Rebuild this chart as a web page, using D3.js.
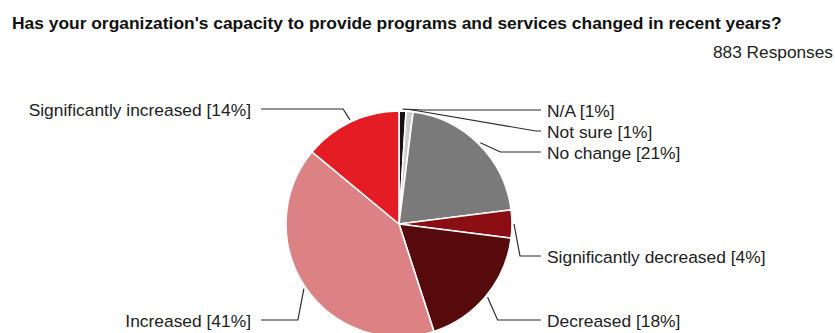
<!DOCTYPE html>
<html>
<head>
<meta charset="utf-8">
<script src="https://cdn.jsdelivr.net/npm/d3@7"></script>
<style>
  html, body { margin: 0; padding: 0; background: #fff; }
  svg { display: block; font-family: "Liberation Sans", Arial, Helvetica, sans-serif; }
</style>
</head>
<body>
<svg id="chart" width="835" height="333"></svg>
<script>
// Survey answers, clockwise from 12 o'clock
const categories = ["N/A", "Not sure", "No change", "Significantly decreased", "Decreased", "Increased", "Significantly increased"];
const percents   = [1, 1, 21, 4, 18, 41, 14];
const colors     = ["#141414", "#cdcdcd", "#7a7a7a", "#8a0e13", "#570a0c", "#dc8184", "#e41d25"];
const title      = "Has your organization's capacity to provide programs and services changed in recent years?";
const responses  = "883 Responses";

// Label placement: row (text centre y) and bend of each leader line
const labelRows  = [111, 132, 153, 257, 321, 321, 110];
const labelBends = [20, 126, 20, 6, 10, 6, 7];

const svg = d3.select("#chart");
const cx = 399, cy = 224, R = 113;

// Title and response count
svg.append("text")
  .attr("x", 12).attr("y", 29)
  .attr("font-size", 17.4).attr("font-weight", "bold").attr("fill", "#111")
  .text(title);
svg.append("text")
  .attr("x", 833).attr("y", 58)
  .attr("text-anchor", "end")
  .attr("font-size", 17.3).attr("fill", "#222")
  .text(responses);

const data = categories.map((c, i) => ({ name: c, value: percents[i], color: colors[i], row: labelRows[i], bend: labelBends[i] }));

const pie = d3.pie().value(d => d.value).sort(null);
const arcs = pie(data);
const arc = d3.arc().innerRadius(0).outerRadius(R);

const g = svg.append("g").attr("transform", `translate(${cx},${cy})`);

g.selectAll("path.slice")
  .data(arcs)
  .join("path")
  .attr("class", "slice")
  .attr("d", arc)
  .attr("fill", d => d.data.color)
  .attr("stroke", "#fff")
  .attr("stroke-width", 1.6)
  .attr("stroke-linejoin", "round");

// Leader lines and labels
const rightX = 547, leftX = 251;
const lines = svg.append("g");
const labels = svg.append("g");

arcs.forEach(a => {
  const mid = (a.startAngle + a.endAngle) / 2;
  const side = Math.sin(mid) >= 0 ? 1 : -1;
  const sx = cx + (R + 2) * Math.sin(mid);
  const sy = cy - (R + 2) * Math.cos(mid);
  const ly = a.data.row - 1;
  const bx = sx + side * a.data.bend;
  const endX = side > 0 ? rightX - 6 : leftX + 10;
  lines.append("path")
    .attr("d", d3.line()([[sx, sy], [bx, ly], [endX, ly]]))
    .attr("fill", "none")
    .attr("stroke", "#2b2b2b")
    .attr("stroke-width", 1.2);
  labels.append("text")
    .attr("x", side > 0 ? rightX : leftX)
    .attr("y", a.data.row)
    .attr("dy", "0.36em")
    .attr("text-anchor", side > 0 ? "start" : "end")
    .attr("font-size", 17.4)
    .attr("fill", "#222")
    .text(`${a.data.name} [${a.data.value}%]`);
});
</script>
</body>
</html>
